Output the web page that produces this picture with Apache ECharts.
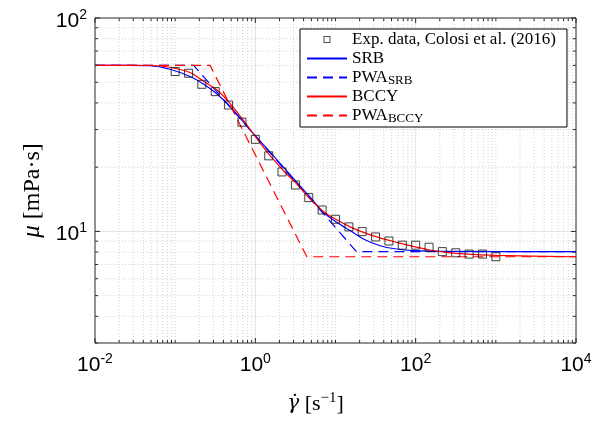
<!DOCTYPE html>
<html><head><meta charset="utf-8">
<script src="https://cdn.jsdelivr.net/npm/echarts@6/dist/echarts.min.js"></script>
<style>html,body{margin:0;padding:0;background:#fff}#c{width:611px;height:425px}</style>
</head><body><div id="c"></div>
<script>
// ---- data ----
const expRate = [0.1, 0.147, 0.215, 0.316, 0.464, 0.681, 1, 1.47, 2.15, 3.16, 4.64, 6.81, 10, 14.7, 21.5, 31.6, 46.4, 68.1, 100, 147, 215, 316, 464, 681, 1000];
const expVisc = [56.1, 55.1, 48.9, 45.2, 39.1, 32.5, 27.0, 22.6, 19.0, 16.5, 14.4, 12.6, 11.4, 10.5, 9.98, 9.42, 9.02, 8.62, 8.62, 8.43, 8.04, 7.94, 7.83, 7.83, 7.61];

const srbRate = [0.01, 0.0273, 0.0485, 0.0862, 0.153, 0.225, 0.330, 0.483, 0.708, 1.04, 1.52, 2.24, 3.28, 4.81, 7.05, 10.35, 15.2, 22.3, 35.9, 58.0, 93.4, 244, 10000];
const srbVisc = [60, 60, 59.8, 57.5, 53.2, 49.1, 44.2, 38.5, 32.6, 27.6, 23.6, 20.0, 17.0, 14.5, 12.3, 11.04, 10.09, 9.22, 8.57, 8.27, 8.13, 8.06, 8.04];

const pwaSrbRate = [0.01, 0.170, 18.3, 10000];
const pwaSrbVisc = [60, 60, 8.04, 8.04];

const bccyRate = [0.01, 0.0485, 0.0862, 0.153, 0.225, 0.330, 0.483, 0.708, 1.04, 1.52, 2.24, 3.28, 4.81, 7.05, 10.35, 15.2, 22.3, 35.9, 58.0, 93.4, 151, 244, 394, 1027, 10000];
const bccyVisc = [60, 59.9, 58.8, 55.5, 50.6, 46.1, 39.8, 33.2, 27.3, 22.7, 19.3, 16.7, 14.2, 12.4, 11.33, 10.5, 9.90, 9.32, 8.89, 8.51, 8.18, 7.97, 7.84, 7.72, 7.61];

const pwaBccyRate = [0.01, 0.272, 4.39, 10000];
const pwaBccyVisc = [60, 60, 7.61, 7.61];

const seriesNames = ['Exp. data, Colosi et al. (2016)', 'SRB', 'PWA_SRB', 'BCCY', 'PWA_BCCY'];

// axes / ticks
const X_MIN = 0.01, X_MAX = 10000, Y_MIN = 3, Y_MAX = 100;
const xLabelTicks = [0.01, 1, 100, 10000];
const yLabelTicks = [10, 100];
const xMajorGrid = [1, 100];
const yMajorGrid = [10];
const xMinorGrid = [0.02,0.03,0.04,0.05,0.06,0.07,0.08,0.09,0.1,0.2,0.3,0.4,0.5,0.6,0.7,0.8,0.9,2,3,4,5,6,7,8,9,10,20,30,40,50,60,70,80,90,200,300,400,500,600,700,800,900,1000,2000,3000,4000,5000,6000,7000,8000,9000];
const yMinorGrid = [4,5,6,7,8,9,20,30,40,50,60,70,80,90];
const yMinorTicks = [3,4,5,6,7,8,9,20,30,40,50,60,70,80,90];

const zip = (a, b) => a.map((v, i) => [v, b[i]]);
const SERIF = "'Liberation Serif','DejaVu Serif',serif";
const SANS = "'Liberation Sans',Arial,sans-serif";

function gridSeries(values, dir, style) {
  return {
    type: 'custom', silent: true, z: 1, clip: false,
    data: values.map(v => dir === 'x' ? [v, Y_MIN] : [X_MIN, v]),
    encode: { x: 0, y: 1 },
    renderItem: (p, api) => {
      let a, b;
      if (dir === 'x') { const v = api.value(0); a = api.coord([v, Y_MIN]); b = api.coord([v, Y_MAX]); }
      else { const v = api.value(1); a = api.coord([X_MIN, v]); b = api.coord([X_MAX, v]); }
      return { type: 'line', shape: { x1: a[0], y1: a[1], x2: b[0], y2: b[1] }, style: Object.assign({}, style) };
    }
  };
}
function tickSeries(values, dir, len) {
  return {
    type: 'custom', silent: true, z: 6, clip: false,
    data: values.map(v => dir === 'x' ? [v, Y_MIN] : [X_MIN, v]),
    encode: { x: 0, y: 1 },
    renderItem: (p, api) => {
      const st = { stroke: '#262626', lineWidth: 1 };
      if (dir === 'x') {
        const v = api.value(0); const a = api.coord([v, Y_MIN]); const b = api.coord([v, Y_MAX]);
        return { type: 'group', children: [
          { type: 'line', shape: { x1: a[0], y1: a[1], x2: a[0], y2: a[1] - len }, style: st },
          { type: 'line', shape: { x1: b[0], y1: b[1], x2: b[0], y2: b[1] + len }, style: st }] };
      } else {
        const v = api.value(1); const a = api.coord([X_MIN, v]); const b = api.coord([X_MAX, v]);
        return { type: 'group', children: [
          { type: 'line', shape: { x1: a[0], y1: a[1], x2: a[0] + len, y2: a[1] }, style: st },
          { type: 'line', shape: { x1: b[0], y1: b[1], x2: b[0] - len, y2: b[1] }, style: st }] };
      }
    }
  };
}
const powLabel = v => { const e = Math.round(Math.log10(v)); return '{b|10}{s|' + e + '}'; };
const labelRich = {
  b: { fontFamily: SANS, fontSize: 21, lineHeight: 26, verticalAlign: 'middle', color: '#000' },
  s: { fontFamily: SANS, fontSize: 14, lineHeight: 13, verticalAlign: 'top', color: '#000' }
};
// hollow square legend glyph (ring path, padded to the legend item box)
const squareIcon = 'path://M0,0L0.01,0L0.01,0.01Z M40,7L39.99,7L39.99,6.99Z M16.5,0L23.5,0L23.5,7L16.5,7Z M17.5,1L17.5,6L22.5,6L22.5,1Z';

const chart = echarts.init(document.getElementById('c'), null, { renderer: 'canvas' });
chart.setOption({
  animation: false,
  backgroundColor: '#fff',
  grid: { left: 95, right: 35, top: 18, bottom: 82, show: true, borderColor: '#262626', borderWidth: 1, backgroundColor: 'transparent' },
  xAxis: {
    type: 'log', logBase: 10, min: X_MIN, max: X_MAX,
    axisLine: { show: false }, axisTick: { show: false }, splitLine: { show: false },
    axisLabel: { customValues: xLabelTicks, margin: 9, formatter: powLabel, rich: labelRich },
    name: '{g|γ̇}{n| [s}{sup|−1}{n|]}', nameLocation: 'middle', nameGap: 48,
    nameTextStyle: { padding: [0, 40, 0, 0], rich: {
      g: { fontFamily: "'DejaVu Serif',serif", fontStyle: 'italic', fontSize: 20, lineHeight: 26, verticalAlign: 'middle', color: '#000' },
      n: { fontFamily: SERIF, fontSize: 22, lineHeight: 26, verticalAlign: 'middle', color: '#000' },
      sup: { fontFamily: SERIF, fontSize: 15, lineHeight: 14, verticalAlign: 'top', color: '#000' } } }
  },
  yAxis: {
    type: 'log', logBase: 10, min: Y_MIN, max: Y_MAX,
    axisLine: { show: false }, axisTick: { show: false }, splitLine: { show: false },
    axisLabel: { customValues: yLabelTicks, margin: 8, formatter: powLabel, rich: labelRich, padding: [6, 0, 0, 0] },
    name: '{g|μ}{n| [mPa·s]}', nameLocation: 'middle', nameGap: 41,
    nameTextStyle: { padding: [0, 20, 0, 0], rich: {
      g: { fontFamily: SERIF, fontStyle: 'italic', fontSize: 25, lineHeight: 28, verticalAlign: 'middle', color: '#000' },
      n: { fontFamily: SERIF, fontSize: 24, lineHeight: 28, verticalAlign: 'middle', color: '#000' } } }
  },
  legend: {
    data: [
      { name: seriesNames[0], icon: squareIcon, itemStyle: { color: '#222', borderWidth: 0 } },
      { name: seriesNames[1], itemStyle: { opacity: 0 } },
      { name: seriesNames[2], itemStyle: { opacity: 0 } },
      { name: seriesNames[3], itemStyle: { opacity: 0 } },
      { name: seriesNames[4], itemStyle: { opacity: 0 } }
    ],
    orient: 'vertical', left: 300, top: 29,
    itemWidth: 40, itemHeight: 7, itemGap: 0, padding: [1, 11, 2, 6],
    borderColor: '#000', borderWidth: 1, backgroundColor: '#fff', selectedMode: false, z: 10,
    formatter: name => { const p = name.split('_'); return p.length > 1 ? '{n|' + p[0] + '}{s|' + p[1] + '}' : '{n|' + name + '}'; },
    textStyle: { fontFamily: SERIF, fontSize: 17, lineHeight: 19, color: '#000', rich: {
      n: { fontFamily: SERIF, fontSize: 17, lineHeight: 19, verticalAlign: 'middle', color: '#000' },
      s: { fontFamily: SERIF, fontSize: 13, lineHeight: 9, verticalAlign: 'bottom', color: '#000' } } }
  },
  series: [
    gridSeries(xMinorGrid, 'x', { stroke: '#d2d2d2', lineWidth: 1, lineDash: [1, 2] }),
    gridSeries(yMinorGrid, 'y', { stroke: '#d2d2d2', lineWidth: 1, lineDash: [1, 2] }),
    gridSeries(xMajorGrid, 'x', { stroke: '#e2e2e2', lineWidth: 1 }),
    gridSeries(yMajorGrid, 'y', { stroke: '#e2e2e2', lineWidth: 1 }),
    tickSeries(xLabelTicks, 'x', 5),
    tickSeries(xMinorGrid, 'x', 3),
    tickSeries(yLabelTicks, 'y', 5),
    tickSeries(yMinorTicks, 'y', 3),
    { name: seriesNames[0], type: 'scatter', z: 5, data: zip(expRate, expVisc), symbol: 'rect', symbolSize: 8,
      itemStyle: { color: 'rgba(0,0,0,0)', borderColor: '#111', borderWidth: 1 }, emphasis: { disabled: true } },
    { name: seriesNames[1], type: 'line', z: 4, data: zip(srbRate, srbVisc), showSymbol: false, symbol: 'none', smooth: 0.3,
      color: '#0000ff', lineStyle: { color: '#0000ff', width: 1.2 }, emphasis: { disabled: true } },
    { name: seriesNames[2], type: 'line', z: 4, data: zip(pwaSrbRate, pwaSrbVisc), showSymbol: false, symbol: 'none',
      color: '#0000ff', lineStyle: { color: '#0000ff', width: 1.2, type: [10, 6] }, emphasis: { disabled: true } },
    { name: seriesNames[3], type: 'line', z: 4, data: zip(bccyRate, bccyVisc), showSymbol: false, symbol: 'none', smooth: 0.3,
      color: '#ff0000', lineStyle: { color: '#ff0000', width: 1.2 }, emphasis: { disabled: true } },
    { name: seriesNames[4], type: 'line', z: 4, data: zip(pwaBccyRate, pwaBccyVisc), showSymbol: false, symbol: 'none',
      color: '#ff0000', lineStyle: { color: '#ff0000', width: 1.2, type: [10, 6] }, emphasis: { disabled: true } }
  ]
});
</script></body></html>
